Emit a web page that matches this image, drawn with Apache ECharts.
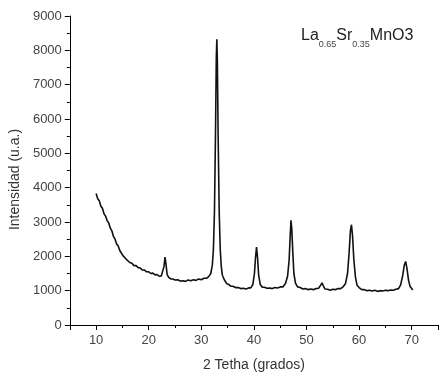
<!DOCTYPE html>
<html>
<head>
<meta charset="utf-8">
<script src="https://cdn.jsdelivr.net/npm/echarts@6/dist/echarts.min.js"></script>
<style>html,body{margin:0;padding:0;background:#fff;}#c{width:441px;height:377px;}</style>
</head>
<body>
<div id="c"></div>
<script>
// 2-theta (degrees)
var twoTheta = [
10.0,10.3,10.6,10.9,11.2,11.5,11.8,12.1,12.4,12.7,13.0,13.3,13.6,13.9,14.2,14.5,14.8,15.1,15.4,15.7,
16.0,16.4,16.8,17.2,17.6,18.0,18.4,18.8,19.2,19.6,20.0,20.4,20.8,21.2,21.6,22.0,22.4,22.7,22.9,23.1,
23.3,23.5,23.8,24.2,24.6,25.0,25.5,26.0,26.5,27.0,27.5,28.0,28.5,29.0,29.5,30.0,30.5,31.0,31.4,31.8,
32.1,32.3,32.5,32.7,32.85,32.95,33.05,33.2,33.4,33.6,33.8,34.0,34.4,34.8,35.2,35.6,36.0,36.5,37.0,37.5,
38.0,38.5,39.0,39.4,39.8,40.1,40.3,40.5,40.7,40.9,41.2,41.6,42.0,42.5,43.0,43.5,44.0,44.5,45.0,45.5,
46.0,46.4,46.7,46.9,47.05,47.2,47.4,47.6,47.9,48.3,48.8,49.3,49.8,50.3,50.8,51.3,51.8,52.3,52.7,52.95,
53.2,53.5,54.0,54.5,55.0,55.5,56.0,56.5,57.0,57.4,57.8,58.1,58.35,58.55,58.75,59.0,59.3,59.6,60.0,60.5,
61.0,61.5,62.0,62.5,63.0,63.5,64.0,64.5,65.0,65.5,66.0,66.5,67.0,67.5,67.9,68.3,68.6,68.85,69.1,69.4,
69.7,70.0,70.2
];
// Intensity (u.a.)
var intensity = [
3830,3680,3620,3460,3400,3240,3170,3040,2970,2820,2740,2580,2500,2360,2300,2170,2130,2020,1990,1920,
1900,1820,1800,1730,1730,1670,1660,1600,1600,1550,1550,1500,1510,1460,1470,1420,1430,1460,1700,1980,
1750,1470,1390,1340,1340,1310,1320,1280,1290,1270,1310,1290,1320,1300,1340,1320,1360,1360,1410,1500,
1750,2200,3300,5600,7800,8320,7700,5500,3300,2200,1700,1450,1310,1210,1180,1130,1130,1090,1090,1060,
1070,1050,1080,1080,1180,1500,1950,2270,1950,1450,1180,1100,1100,1070,1080,1060,1090,1080,1110,1110,
1210,1420,1900,2600,3050,2800,2100,1500,1220,1110,1090,1050,1060,1030,1050,1030,1060,1070,1160,1230,
1140,1050,1040,1010,1040,1030,1060,1060,1120,1200,1500,2100,2750,2920,2600,1900,1400,1160,1090,1030,
1030,1000,1010,990,1010,980,1000,990,1010,1000,1020,1010,1040,1060,1170,1450,1750,1850,1650,1300,
1120,1060,1020
];
var xTitle = '2 Tetha (grados)';
var yTitle = 'Intensidad (u.a.)';
var sampleLabel = 'La{s|0.65}Sr{s|0.35}MnO3';

var pts = twoTheta.map(function (t, i) { return [t, intensity[i]]; });
var font = '"Liberation Sans", Arial, sans-serif';
var chart = echarts.init(document.getElementById('c'), null, {renderer: 'canvas'});
chart.setOption({
  animation: false,
  backgroundColor: '#fff',
  title: {
    text: sampleLabel, left: 301, top: 28, padding: 0,
    textStyle: {
      fontFamily: font, fontSize: 16, fontWeight: 'normal', color: '#222',
      rich: {
        s: {fontFamily: font, fontSize: 9, color: '#444', lineHeight: 9, padding: [12, 0, 0, 0], verticalAlign: 'top'}
      }
    }
  },
  grid: {left: 67, right: -7, top: 16, bottom: 51, containLabel: false},
  xAxis: [{
    type: 'value', min: 5, max: 75, splitNumber: 7, minInterval: 10, maxInterval: 10,
    position: 'bottom',
    name: xTitle, nameLocation: 'middle', nameGap: 33,
    nameTextStyle: {fontFamily: font, fontSize: 14, color: '#333'},
    axisLine: {show: true, onZero: false, lineStyle: {color: '#000', width: 1}},
    axisTick: {show: true, inside: false, length: 5, lineStyle: {color: '#000'}},
    axisLabel: {fontFamily: font, fontSize: 13, color: '#444', margin: 9,
      formatter: function (v) { return (v % 10 === 0 && v >= 10 && v <= 70) ? String(v) : ''; }},
    splitLine: {show: false}
  }, {
    type: 'value', min: 5, max: 75, interval: 10, position: 'bottom',
    axisLine: {show: false, onZero: false},
    axisTick: {show: true, inside: false, length: 3, lineStyle: {color: '#000'}},
    axisLabel: {show: false},
    splitLine: {show: false}
  }],
  yAxis: {
    type: 'value', min: 0, max: 9000, interval: 1000,
    name: yTitle, nameLocation: 'middle', nameGap: 31,
    nameTextStyle: {fontFamily: font, fontSize: 14, color: '#333', padding: [0, 18, 0, 0]},
    axisLine: {show: true, onZero: false, lineStyle: {color: '#000', width: 1}},
    axisTick: {show: true, inside: false, length: 5, lineStyle: {color: '#000'}},
    minorTick: {show: true, splitNumber: 2, length: 3, lineStyle: {color: '#000'}},
    axisLabel: {fontFamily: font, fontSize: 13, color: '#444', margin: 8,
      formatter: function (v) { return String(v); }},
    splitLine: {show: false},
    minorSplitLine: {show: false}
  },
  series: [{
    type: 'line', xAxisIndex: 0, yAxisIndex: 0, data: pts,
    showSymbol: false, symbol: 'none', smooth: false,
    lineStyle: {color: '#111', width: 1.6}
  }]
});
</script>
</body>
</html>
